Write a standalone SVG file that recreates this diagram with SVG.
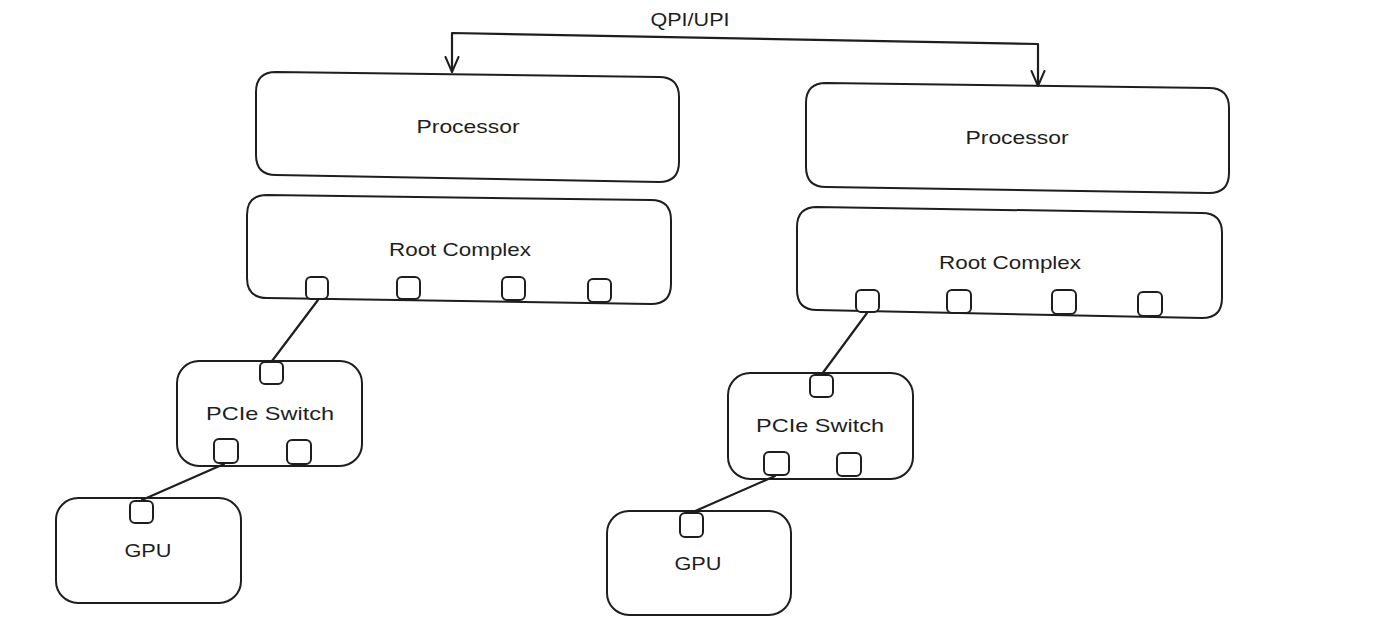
<svg xmlns="http://www.w3.org/2000/svg" width="1395" height="631" viewBox="0 0 1395 631">
<defs>
<marker id="arr" viewBox="-16 -9 18 18" markerWidth="18" markerHeight="18" refX="0" refY="0" orient="auto-start-reverse" markerUnits="userSpaceOnUse">
<path d="M-15,-6.5 L0,0 L-15,6.5" fill="none" stroke="#1e1e1e" stroke-width="2" stroke-linecap="round" stroke-linejoin="round"/>
</marker>
</defs>
<style>
.box{fill:#ffffff;stroke:#1e1e1e;stroke-width:2;stroke-linejoin:round}
.port{fill:#ffffff;stroke:#1e1e1e;stroke-width:2}
.lbl{font-family:"Liberation Sans",Arial,sans-serif;font-size:19px;fill:#1e1e1e;text-anchor:middle;dominant-baseline:central}
.conn{fill:none;stroke:#1e1e1e;stroke-width:2.2;stroke-linecap:round;stroke-linejoin:round}
</style>
<rect width="1395" height="631" fill="#ffffff"/>

<g id="processor-left">
<path class="box" d="M276,72 L659,77 Q679,77 679,97 L679,162 Q679,182 659,182 L276,175 Q256,175 256,155 L256,92 Q256,72 276,72 Z"/>
<text class="lbl" x="468" y="126" textLength="103" lengthAdjust="spacingAndGlyphs">Processor</text>
</g>
<g id="rootcomplex-left">
<path class="box" d="M267,195 L651,200 Q671,200 671,220 L671,284 Q671,304 651,304 L267,298 Q247,298 247,278 L247,215 Q247,195 267,195 Z"/>
<text class="lbl" x="460" y="249" textLength="142" lengthAdjust="spacingAndGlyphs">Root Complex</text>
<rect class="port" x="306" y="277" width="22" height="22" rx="5"/>
<rect class="port" x="397" y="277" width="23" height="22" rx="5"/>
<rect class="port" x="502" y="277" width="23" height="23" rx="5"/>
<rect class="port" x="588" y="279" width="23" height="23" rx="5"/>
</g>
<g id="processor-right">
<path class="box" d="M826,83 L1209,88 Q1229,88 1229,108 L1229,173 Q1229,193 1209,193 L826,187 Q806,187 806,167 L806,103 Q806,83 826,83 Z"/>
<text class="lbl" x="1017" y="137" textLength="103" lengthAdjust="spacingAndGlyphs">Processor</text>
</g>
<g id="rootcomplex-right">
<path class="box" d="M817,207 L1202,213 Q1222,213 1222,233 L1222,298 Q1222,318 1202,318 L817,310 Q797,310 797,290 L797,227 Q797,207 817,207 Z"/>
<text class="lbl" x="1010" y="262" textLength="142" lengthAdjust="spacingAndGlyphs">Root Complex</text>
<rect class="port" x="856" y="290" width="23" height="22" rx="5"/>
<rect class="port" x="947" y="290" width="24" height="23" rx="5"/>
<rect class="port" x="1052" y="290" width="24" height="24" rx="5"/>
<rect class="port" x="1138" y="292" width="24" height="24" rx="5"/>
</g>
<g id="pcie-switch-left">
<rect class="box" x="177" y="361" width="185" height="105" rx="22"/>
<text class="lbl" x="270" y="413" textLength="128" lengthAdjust="spacingAndGlyphs">PCIe Switch</text>
<rect class="port" x="260" y="362" width="23" height="22" rx="5"/>
<rect class="port" x="214" y="439" width="24" height="24" rx="5"/>
<rect class="port" x="287" y="440" width="24" height="24" rx="5"/>
</g>
<g id="gpu-left">
<rect class="box" x="56" y="498" width="185" height="105" rx="22"/>
<text class="lbl" x="148" y="550" textLength="47" lengthAdjust="spacingAndGlyphs">GPU</text>
<rect class="port" x="130" y="501" width="23" height="22" rx="5"/>
</g>
<g id="pcie-switch-right">
<rect class="box" x="728" y="373" width="185" height="106" rx="22"/>
<text class="lbl" x="820" y="425" textLength="128" lengthAdjust="spacingAndGlyphs">PCIe Switch</text>
<rect class="port" x="810" y="375" width="23" height="22" rx="5"/>
<rect class="port" x="764" y="452" width="25" height="23" rx="5"/>
<rect class="port" x="837" y="453" width="24" height="23" rx="5"/>
</g>
<g id="gpu-right">
<rect class="box" x="607" y="511" width="184" height="104" rx="22"/>
<text class="lbl" x="698" y="563" textLength="47" lengthAdjust="spacingAndGlyphs">GPU</text>
<rect class="port" x="680" y="513" width="23" height="24" rx="5"/>
</g>

<g id="connectors">
<path class="conn" d="M452,72 L452,33 L1038,44 L1038,86" marker-start="url(#arr)" marker-end="url(#arr)"/>
<text class="lbl" x="690" y="19" textLength="79" lengthAdjust="spacingAndGlyphs">QPI/UPI</text>
<path class="conn" d="M318,300 L272,361"/>
<path class="conn" d="M224,464 L142,500"/>
<path class="conn" d="M867,313 L822,374"/>
<path class="conn" d="M775,476 L693,512"/>
</g>
</svg>
